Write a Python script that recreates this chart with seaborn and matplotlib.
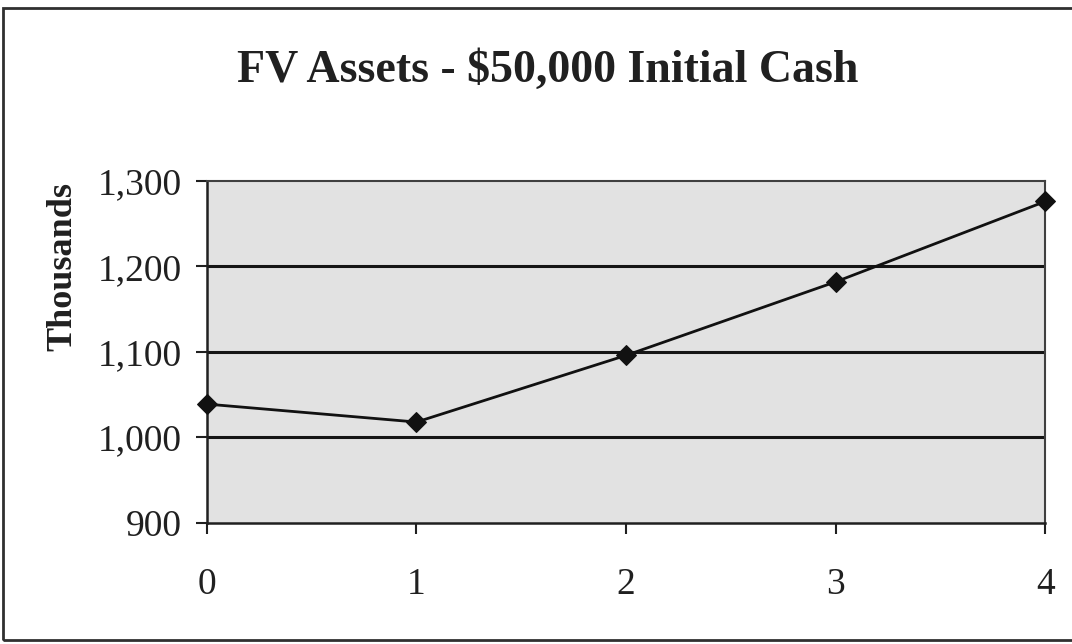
import pandas as pd
import matplotlib.pyplot as plt
import seaborn as sns
from matplotlib.patches import Rectangle

years = [0, 1, 2, 3, 4]
fv_assets = [1039, 1018, 1096, 1182, 1276]
y_ticks = [900, 1000, 1100, 1200, 1300]
y_tick_labels = ["900", "1,000", "1,100", "1,200", "1,300"]

df = pd.DataFrame({"Year": years, "FV": fv_assets})

sns.set_style("white")
plt.rcParams["font.family"] = ["Liberation Serif", "DejaVu Serif"]

fig = plt.figure(figsize=(10.72, 6.44), dpi=100)
ax = fig.add_axes([0.193, 0.188, 0.782, 0.531])
ax.set_facecolor("#e2e2e2")

sns.lineplot(data=df, x="Year", y="FV", ax=ax, color="#111111", linewidth=2,
             marker="D", markersize=10, markeredgecolor="#111111",
             markerfacecolor="#111111", clip_on=False, zorder=5)

for v in y_ticks[1:4]:
    ax.axhline(v, color="#151515", linewidth=2.2, zorder=2)

ax.set_xlim(0, 4)
ax.set_ylim(900, 1300)
ax.set_xticks(years)
ax.set_yticks(y_ticks)
ax.set_yticklabels(y_tick_labels)
ax.tick_params(axis="both", labelsize=27, colors="#202020", direction="out",
               length=8, width=1.5, left=True, bottom=True)
ax.tick_params(axis="x", pad=24)
ax.tick_params(axis="y", pad=10)

for side in ["left", "bottom"]:
    ax.spines[side].set_color("#202020")
    ax.spines[side].set_linewidth(1.8)
for side in ["top", "right"]:
    ax.spines[side].set_color("#404040")
    ax.spines[side].set_linewidth(1.5)

ax.set_xlabel("")
ax.set_ylabel("Thousands", fontsize=26, fontweight="bold", color="#202020")
ax.yaxis.set_label_coords(-0.152, 0.75)

fig.text(0.511, 0.89, "FV Assets - $50,000 Initial Cash", ha="center", va="center",
         fontsize=33, fontweight="bold", color="#202020")

fig.patches.append(Rectangle((0.003, 0.006), 1.2, 0.982, transform=fig.transFigure,
                             fill=False, edgecolor="#303030", linewidth=2))

fig.savefig("out.png", dpi=100)
